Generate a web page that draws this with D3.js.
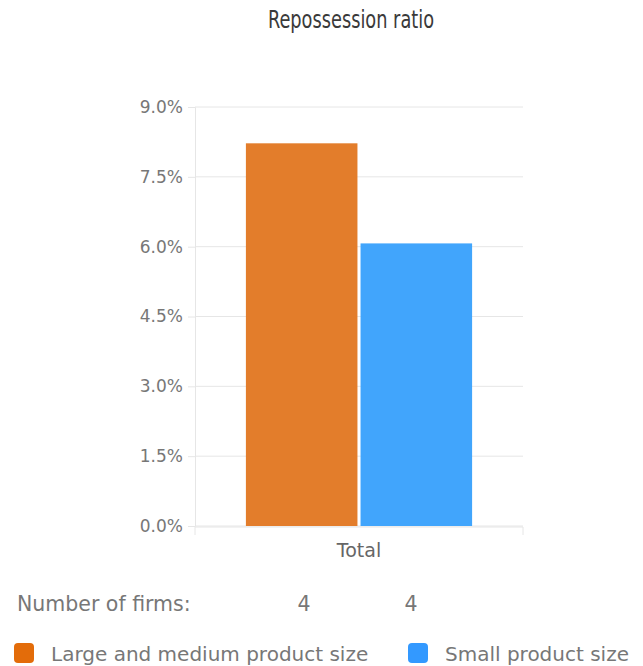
<!DOCTYPE html>
<html>
<head>
<meta charset="utf-8">
<script src="https://cdn.jsdelivr.net/npm/d3@7"></script>
<style>
  html, body { margin: 0; padding: 0; background: #fff; }
  svg { display: block; }
</style>
</head>
<body>
<svg id="chart" width="643" height="666"></svg>
<script>
// Repossession ratio by product size group
const categories = ["Total"];
const seriesNames = ["Large and medium product size", "Small product size"];
const seriesValues = [[8.22], [6.07]];
const firmCounts = [4, 4];
const yTicks = [0, 1.5, 3.0, 4.5, 6.0, 7.5, 9.0];
const barColors = ["#e37d2b", "#41a5fc"];
const legendColors = ["#e36c0a", "#3399ff"];

const svg = d3.select("#chart");
const labelFont = "'DejaVu Sans', 'Noto Sans', sans-serif";

const plot = { left: 195, right: 523, top: 107, bottom: 526 };

const y = d3.scaleLinear().domain([0, 9]).range([plot.bottom, plot.top]);
const x0 = d3.scaleBand().domain(categories).range([plot.left, plot.right]).paddingInner(0).paddingOuter(0.225);
const x1 = d3.scaleBand().domain(d3.range(seriesNames.length)).range([0, x0.bandwidth()]).paddingInner(0.027);

// Title (condensed, drawn narrower horizontally)
svg.append("text")
  .attr("transform", "translate(351,28) scale(0.79,1)")
  .attr("text-anchor", "middle")
  .attr("font-family", "'DejaVu Sans Condensed', 'DejaVu Sans', sans-serif")
  .style("font-stretch", "condensed")
  .attr("font-size", 25)
  .attr("fill", "#3a3a3a")
  .text("Repossession ratio");

// Grid lines
svg.append("g")
  .selectAll("line")
  .data(yTicks)
  .join("line")
  .attr("x1", plot.left).attr("x2", plot.right)
  .attr("y1", d => y(d)).attr("y2", d => y(d))
  .attr("stroke", "#e6e6e6").attr("stroke-width", 1);

// Y axis
const yAxis = svg.append("g")
  .attr("transform", `translate(${plot.left},0)`)
  .call(d3.axisLeft(y).tickValues(yTicks).tickSize(7).tickPadding(5)
    .tickFormat(d => d3.format(".1f")(d) + "%"));
yAxis.select(".domain").attr("stroke", "#e6e6e6");
yAxis.selectAll(".tick line").attr("stroke", "#e6e6e6");
yAxis.selectAll("text")
  .attr("font-family", labelFont).attr("font-size", 17).attr("fill", "#777");

// Bars
svg.append("g")
  .selectAll("g")
  .data(categories)
  .join("g")
  .attr("transform", d => `translate(${x0(d)},0)`)
  .selectAll("rect")
  .data((d, ci) => seriesValues.map((vals, si) => ({ si, v: vals[ci] })))
  .join("rect")
  .attr("x", d => x1(d.si))
  .attr("width", x1.bandwidth())
  .attr("y", d => y(d.v))
  .attr("height", d => y(0) - y(d.v))
  .attr("fill", d => barColors[d.si]);

// X axis
const xAxis = svg.append("g")
  .attr("transform", `translate(0,${plot.bottom + 1})`)
  .call(d3.axisBottom(x0).tickSize(0).tickPadding(17));
xAxis.select(".domain").attr("stroke", "#e6e6e6").attr("d", `M${plot.left},8V0H${plot.right}V8`);
xAxis.selectAll("text")
  .attr("font-family", labelFont).attr("font-size", 19).attr("fill", "#666");

// Number of firms row
svg.append("text")
  .attr("x", 17).attr("y", 611)
  .attr("font-family", labelFont).attr("font-size", 20.5).attr("fill", "#777")
  .text("Number of firms:");
const firmX = [304, 411];
svg.append("g")
  .selectAll("text")
  .data(firmCounts)
  .join("text")
  .attr("x", (d, i) => firmX[i]).attr("y", 611)
  .attr("text-anchor", "middle")
  .attr("font-family", labelFont).attr("font-size", 20.5).attr("fill", "#777")
  .text(d => d);

// Legend
const legendX = [14, 408];
const legend = svg.append("g")
  .selectAll("g")
  .data(seriesNames)
  .join("g")
  .attr("transform", (d, i) => `translate(${legendX[i]},643)`);
legend.append("rect")
  .attr("width", 20).attr("height", 20).attr("rx", 4)
  .attr("fill", (d, i) => legendColors[i]);
legend.append("text")
  .attr("x", 37).attr("y", 18)
  .attr("font-family", labelFont).attr("font-size", 20).attr("fill", "#777")
  .text(d => d);
</script>
</body>
</html>
